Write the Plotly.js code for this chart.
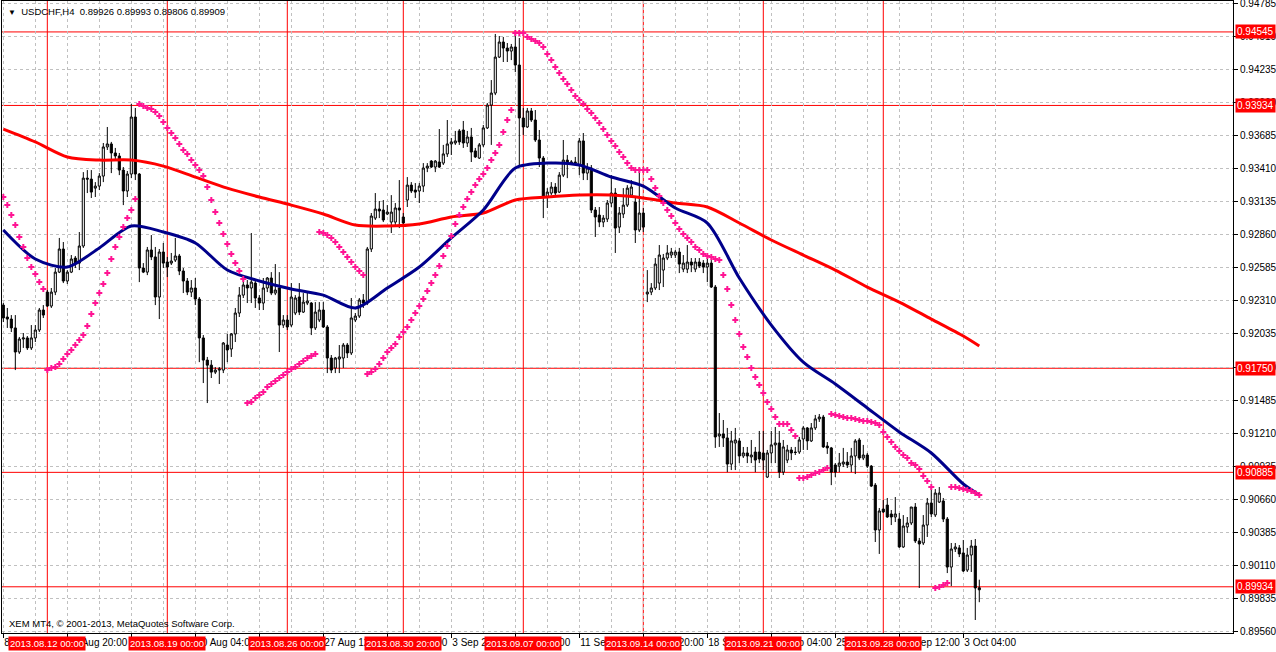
<!DOCTYPE html>
<html>
<head>
<meta charset="utf-8">
<script src="https://cdn.plot.ly/plotly-3.0.1.min.js"></script>
<style>
  html, body { margin: 0; padding: 0; background: #fff; }
  #chart { width: 1276px; height: 652px; }
</style>
</head>
<body>
<div id="chart"></div>
<script>
// USDCHF H4 bars, 8 Aug 2013 04:00 .. 3 Oct 2013 20:00 (245 bars)
const barOpen = [
  .92275,.92176,.92159,.92085,.91885,.91993,.92002,.91919,.92002,.92068,
  .92234,.92383,.92267,.92383,.92549,.92741,.92475,.92549,.92666,.92624,
  .92766,.93330,.93322,.93247,.93264,.93347,.93589,.93614,.93539,.93514,
  .93397,.93223,.93364,.93838,.93364,.92583,.92549,.92733,.92675,.92342,
  .92716,.92633,.92624,.92649,.92683,.92558,.92475,.92383,.92417,.92325,
  .92002,.91818,.91776,.91718,.91735,.91735,.91943,.91910,.92035,.92209,
  .92358,.92442,.92417,.92458,.92334,.92292,.92417,.92500,.92375,.92417,
  .92109,.92151,.92109,.92209,.92342,.92217,.92292,.92292,.92085,.92151,
  .92234,.92093,.91835,.91752,.91827,.91835,.91943,.91877,.92151,.92184,
  .92317,.92292,.92741,.92998,.93073,.93065,.93032,.92965,.92965,.93082,
  .93007,.93148,.93272,.93231,.93223,.93264,.93414,.93472,.93422,.93464,
  .93455,.93531,.93614,.93622,.93722,.93730,.93622,.93672,.93556,.93497,
  .93606,.93747,.93937,.94037,.94336,.94461,.94411,.94386,.94420,.94270,
  .93830,.93755,.93888,.93813,.93647,.93497,.93173,.93206,.93256,.93214,
  .93355,.93480,.93455,.93464,.93439,.93639,.93372,.93414,.93065,.93023,
  .92965,.92990,.93123,.93206,.92923,.93032,.93106,.93189,.93131,.92899,
  .93040,.92367,.92383,.92417,.92458,.92566,.92666,.92691,.92691,.92716,
  .92574,.92574,.92633,.92574,.92633,.92624,.92591,.92624,.92425,.91187,
  .91204,.91171,.90954,.91129,.91146,.91021,.91046,.91013,.91054,.91054,
  .91046,.90846,.91046,.91113,.91129,.90887,.90987,.91071,.91054,.91054,
  .91162,.91254,.91146,.91254,.91329,.91345,.91104,.91088,.90946,.90937,
  .90954,.90971,.90946,.91021,.91154,.91004,.91029,.90937,.90779,.90406,
  .90580,.90613,.90539,.90514,.90497,.90265,.90431,.90464,.90597,.90315,
  .90298,.90447,.90630,.90531,.90638,.90647,.90497,.90098,.90248,.90257,
  .90215,.90073,.90198,.90273,.89926
];
const barHigh = [
  .92292,.92251,.92192,.92192,.92010,.92043,.92018,.92109,.92109,.92251,
  .92275,.92400,.92417,.92583,.92833,.92799,.92566,.92691,.92683,.92882,
  .93380,.93397,.93397,.93297,.93372,.93622,.93755,.93631,.93581,.93539,
  .93422,.93389,.93946,.93913,.93372,.92624,.92758,.92857,.92758,.92741,
  .92791,.92675,.92708,.92833,.92700,.92583,.92500,.92483,.92500,.92342,
  .92026,.91844,.91818,.91760,.91760,.91968,.92035,.92043,.92251,.92425,
  .92483,.92483,.92874,.92483,.92358,.92500,.92508,.92549,.92616,.92549,
  .92192,.92192,.92458,.92358,.92458,.92375,.92383,.92300,.92300,.92300,
  .92300,.92109,.91860,.91844,.91943,.91960,.91960,.92334,.92209,.92334,
  .92367,.92758,.93040,.93206,.93140,.93148,.93106,.93189,.93123,.93314,
  .93040,.93339,.93297,.93289,.93289,.93455,.93455,.93480,.93480,.93738,
  .93606,.93813,.93664,.93722,.93738,.93805,.93722,.93747,.93581,.93622,
  .93772,.93954,.94145,.94528,.94511,.94503,.94453,.94445,.94544,.94495,
  .93913,.93913,.93913,.93896,.93730,.93514,.93247,.93297,.93289,.93380,
  .93647,.93522,.93480,.93506,.93664,.93705,.93455,.93439,.93090,.93090,
  .93023,.93148,.93355,.93247,.93090,.93247,.93272,.93314,.93165,.93380,
  .93082,.92566,.92458,.92666,.92774,.92700,.92774,.92750,.92733,.92750,
  .92691,.92774,.92666,.92666,.92666,.92649,.92666,.92649,.92442,.91378,
  .91320,.91254,.91229,.91254,.91171,.91096,.91096,.91154,.91096,.91229,
  .91229,.91071,.91229,.91262,.91229,.91154,.91113,.91096,.91096,.91179,
  .91271,.91262,.91295,.91362,.91370,.91362,.91137,.91096,.90962,.91046,
  .91088,.91054,.91088,.91162,.91171,.91113,.91046,.90946,.90796,.90589,
  .90655,.90672,.90572,.90680,.90547,.90530,.90514,.90597,.90630,.90340,
  .90530,.90672,.90763,.90746,.90763,.90672,.90514,.90298,.90298,.90281,
  .90323,.90257,.90323,.90331,.89993
];
const barLow = [
  .92134,.92085,.92051,.91735,.91869,.91919,.91902,.91902,.91968,.92051,
  .92168,.92259,.92251,.92358,.92541,.92458,.92450,.92541,.92583,.92566,
  .92750,.93206,.93165,.93173,.93231,.93297,.93564,.93372,.93480,.93355,
  .93106,.93173,.93330,.93314,.92466,.92541,.92524,.92649,.92275,.92159,
  .92583,.92508,.92608,.92633,.92524,.92375,.92358,.92342,.92275,.91801,
  .91627,.91461,.91669,.91702,.91619,.91710,.91801,.91844,.91968,.92176,
  .92334,.92292,.92292,.92251,.92234,.92234,.92383,.92358,.92358,.91885,
  .92085,.92068,.92093,.92192,.92192,.92209,.92275,.92026,.92068,.92134,
  .92085,.91710,.91710,.91710,.91710,.91752,.91835,.91860,.92134,.92168,
  .92251,.92275,.92716,.92982,.92998,.92965,.93023,.92874,.92940,.92915,
  .92940,.93090,.93206,.93165,.93123,.93214,.93380,.93414,.93380,.93414,
  .93439,.93506,.93522,.93606,.93606,.93581,.93589,.93464,.93497,.93489,
  .93589,.93738,.93606,.94020,.94328,.94295,.94295,.94311,.94211,.93439,
  .93689,.93747,.93797,.93631,.93422,.92998,.93082,.93189,.93173,.93206,
  .93339,.93330,.93439,.93439,.93355,.93314,.93314,.93040,.92841,.92923,
  .92923,.92965,.93090,.92708,.92874,.92998,.93090,.93173,.92791,.92882,
  .92882,.92300,.92358,.92400,.92400,.92425,.92649,.92666,.92666,.92541,
  .92549,.92541,.92549,.92549,.92583,.92541,.92466,.92417,.91088,.91096,
  .91096,.90887,.90904,.90904,.90962,.91004,.90962,.90962,.90887,.90962,
  .90904,.90838,.90962,.90962,.90838,.90863,.90962,.90987,.91029,.91038,
  .91071,.91071,.91137,.91237,.91304,.91088,.91038,.90779,.90846,.90887,
  .90929,.90921,.90887,.90871,.90987,.90987,.90921,.90763,.90306,.90207,
  .90547,.90506,.90447,.90472,.90257,.90257,.90381,.90447,.90298,.89924,
  .90281,.90348,.90514,.90514,.90630,.90472,.90048,.89940,.90223,.90181,
  .90057,.90057,.90057,.89658,.89806
];
const barClose = [
  .92168,.92159,.92085,.91885,.91993,.92002,.91919,.92002,.92068,.92234,
  .92192,.92267,.92383,.92549,.92741,.92475,.92549,.92658,.92624,.92766,
  .93330,.93322,.93214,.93264,.93347,.93589,.93614,.93539,.93514,.93397,
  .93223,.93364,.93838,.93364,.92583,.92549,.92733,.92675,.92342,.92716,
  .92624,.92591,.92641,.92683,.92558,.92475,.92383,.92417,.92325,.92002,
  .91818,.91776,.91718,.91735,.91743,.91960,.91902,.92035,.92209,.92358,
  .92442,.92417,.92466,.92334,.92292,.92417,.92500,.92375,.92400,.92109,
  .92151,.92093,.92342,.92334,.92217,.92300,.92309,.92085,.92217,.92234,
  .92093,.91835,.91735,.91835,.91844,.91943,.91877,.92168,.92184,.92317,
  .92292,.92741,.93015,.93073,.93057,.92982,.93048,.93048,.93082,.93065,
  .92957,.93272,.93223,.93214,.93264,.93414,.93430,.93422,.93472,.93422,
  .93531,.93614,.93631,.93639,.93631,.93622,.93672,.93547,.93506,.93606,
  .93747,.93937,.94037,.94336,.94461,.94411,.94386,.94420,.94270,.93830,
  .93755,.93888,.93813,.93647,.93497,.93173,.93214,.93256,.93206,.93355,
  .93480,.93455,.93464,.93460,.93639,.93372,.93414,.93065,.93007,.92965,
  .92998,.93123,.93206,.92915,.93040,.93106,.93247,.93256,.92899,.93040,
  .92923,.92383,.92417,.92616,.92691,.92666,.92708,.92716,.92716,.92616,
  .92624,.92633,.92608,.92633,.92599,.92591,.92624,.92425,.91179,.91204,
  .91171,.90954,.91146,.91154,.91021,.91046,.91021,.91029,.90987,.90996,
  .90987,.91046,.91113,.91129,.90887,.91096,.91071,.91046,.91050,.91154,
  .91254,.91146,.91254,.91329,.91345,.91096,.91088,.90887,.90887,.90962,
  .90971,.90946,.91021,.91146,.91004,.91029,.90937,.90771,.90406,.90564,
  .90556,.90514,.90514,.90539,.90265,.90439,.90464,.90597,.90315,.90290,
  .90447,.90630,.90539,.90713,.90713,.90497,.90098,.90248,.90265,.90207,
  .90065,.90198,.90273,.89924,.89909
];

// Parabolic SAR, one dot per bar
const sarValues = [
  .93173,.93106,.93023,.92940,.92841,.92758,.92666,.92591,.92533,.92466,.92409,
  .91735,.91752,.91760,.91785,.91827,.91869,.91902,.91943,.91985,.92026,.92101,
  .92201,.92292,.92375,.92450,.92541,.92658,.92758,.92841,.92924,.92998,.93065,.93156,
  .93946,.93929,.93913,.93904,.93879,.93846,.93796,.93747,.93705,.93664,.93614,
  .93564,.93531,.93480,.93439,.93397,.93347,.93256,.93148,.93048,.92957,.92866,
  .92783,.92700,.92624,.92558,.92491,
  .91461,.91469,.91502,.91527,.91552,.91594,.91619,.91644,.91669,.91693,.91718,
  .91743,.91760,.91785,.91810,.91835,.91852,.91869,
  .92882,.92874,.92857,.92833,.92799,.92758,.92716,.92675,.92633,.92591,.92558,.92524,
  .91702,.91718,.91743,.91785,.91835,.91885,.91919,.91952,.92010,.92051,
  .92093,.92151,.92209,.92267,.92325,.92392,.92458,.92524,.92599,.92683,
  .92766,.92849,.92949,.93023,.93090,.93156,.93214,.93272,.93322,.93364,
  .93414,.93480,.93539,.93606,.93714,.93813,.93896,
  .94536,.94536,.94536,.94503,.94486,.94469,.94453,.94420,.94362,.94311,
  .94253,.94203,.94153,.94112,.94062,.94012,.93979,.93946,.93904,.93871,
  .93830,.93789,.93738,.93689,.93639,.93597,.93547,.93506,.93455,.93414,
  .93397,.93397,.93397,.93397,.93322,.93247,.93181,.93123,.93065,.93015,
  .92957,.92907,.92866,.92833,.92799,.92758,.92733,.92700,.92683,.92675,
  .92658,.92649,.92524,.92409,.92275,.92151,.92035,.91927,.91844,.91752,
  .91677,.91611,.91544,.91469,.91412,.91345,.91287,.91287,.91287,.91237,.91187,
  .90838,.90838,.90846,.90863,.90879,.90887,.90904,.90921,
  .91370,.91362,.91354,.91345,.91337,.91337,.91329,.91320,.91312,.91312,
  .91304,.91295,.91279,.91221,.91179,.91137,.91096,.91063,.91029,.91004,
  .90962,.90946,.90913,.90854,.90813,.90763,
  .89924,.89932,.89949,.89965,
  .90763,.90763,.90754,.90746,.90738,.90729,.90713,.90696
];

// moving averages, read every 8 bars
const maBars = [0,8,16,24,32,40,48,56,64,72,80,88,96,104,112,120,128,136,144,152,160,168,176,184,192,200,208,216,224,232,240,244];
const slowMA = [.93738,.93631,.93506,.93480,.93480,.93430,.93339,.93247,.93173,.93106,.93032,.92940,.92932,.92949,.93007,.93040,
                .93148,.93173,.93189,.93189,.93165,.93123,.93090,.92957,.92816,.92691,.92566,.92425,.92300,.92159,.92018,.91935];
const fastMA = [.92899,.92658,.92591,.92750,.92932,.92882,.92791,.92566,.92475,.92409,.92358,.92251,.92417,.92591,.92833,.93065,
                .93414,.93455,.93439,.93339,.93264,.93082,.92957,.92500,.92109,.91801,.91619,.91420,.91221,.91046,.90788,.90697];

// horizontal price levels and the dated vertical lines
const levels = [0.94545, 0.93934, 0.91750, 0.90885, 0.89934];
const sepBars = [11, 41, 71, 100, 130, 160, 190, 220];
const sepLabels = ['2013.08.12 00:00','2013.08.19 00:00','2013.08.26 00:00','2013.08.30 20:00',
                   '2013.09.07 00:00','2013.09.14 00:00','2013.09.21 00:00','2013.09.28 00:00'];

// axis ticks
const tickBars = [0,16,32,48,64,80,96,112,128,144,160,176,192,208,224,240];
const tickLabels = ['8 Aug 2013','12 Aug 20:00','15 Aug 12:00','20 Aug 04:00','22 Aug 20:00','27 Aug 12:00',
                    '30 Aug 04:00','3 Sep 20:00','6 Sep 12:00','11 Sep 04:00','13 Sep 20:00','18 Sep 12:00',
                    '23 Sep 04:00','25 Sep 20:00','30 Sep 12:00','3 Oct 04:00'];
const priceTicks = [0.89560,0.89835,0.90110,0.90385,0.90660,0.90935,0.91210,0.91485,0.91760,0.92035,
                    0.92310,0.92585,0.92860,0.93135,0.93410,0.93685,0.93960,0.94235,0.94510,0.94785];

const FONT = 'Liberation Sans, Arial, sans-serif';
const GRID = '#c0c0c0';
const bars = barOpen.map((_, i) => i);
const last = bars.length - 1;

const traces = [
    {
        type: 'candlestick', x: bars,
        open: barOpen, high: barHigh, low: barLow, close: barClose,
        increasing: { line: { color: '#000', width: 1 }, fillcolor: '#fff' },
        decreasing: { line: { color: '#000', width: 1 }, fillcolor: '#000' },
        whiskerwidth: 0, hoverinfo: 'skip'
    },
    { // slow MA
        x: maBars, y: slowMA, type: 'scatter', mode: 'lines',
        line: { color: '#ff0000', width: 3, shape: 'spline', smoothing: 0.8 }, hoverinfo: 'skip'
    },
    { // fast MA
        x: maBars, y: fastMA, type: 'scatter', mode: 'lines',
        line: { color: '#00008b', width: 3, shape: 'spline', smoothing: 0.8 }, hoverinfo: 'skip'
    },
    { // parabolic SAR
        x: bars, y: sarValues, type: 'scatter', mode: 'markers',
        marker: { symbol: 'cross', size: 5, color: '#ff1493', line: { width: 0 } },
        hoverinfo: 'skip'
    }
];

const shapes = [];
levels.forEach(v => shapes.push({
    type: 'line', xref: 'paper', x0: 0, x1: 1, yref: 'y', y0: v, y1: v,
    line: { color: '#ff0000', width: 1 }, layer: 'below'
}));
sepBars.forEach(b => shapes.push({
    type: 'line', xref: 'x', x0: b, x1: b, yref: 'paper', y0: 0, y1: 1,
    line: { color: '#ff0000', width: 1 }, layer: 'below'
}));

const annotations = [];
levels.forEach(v => annotations.push({
    xref: 'paper', x: 1, xanchor: 'left', xshift: 2,
    yref: 'y', y: v, yanchor: 'middle',
    text: v.toFixed(5), showarrow: false,
    bgcolor: '#ff0000', borderpad: 1,
    font: { family: FONT, size: 10, color: '#fff' }
}));
sepBars.forEach((b, i) => annotations.push({
    xref: 'x', x: b, xanchor: 'center',
    yref: 'paper', y: 0, yanchor: 'top', yshift: -3,
    text: sepLabels[i], showarrow: false,
    bgcolor: '#ff0000', borderpad: 1,
    font: { family: FONT, size: 9.5, color: '#fff' }
}));
annotations.push({
    xref: 'paper', x: 0, xanchor: 'left', xshift: 4,
    yref: 'paper', y: 1, yanchor: 'top', yshift: -3,
    showarrow: false,
    text: '<span style="font-size:8px">▼</span>\u00a0\u00a0USDCHF,H4\u00a0\u00a0' +
          [barOpen[last], barHigh[last], barLow[last], barClose[last]].map(v => v.toFixed(5)).join(' '),
    font: { family: FONT, size: 9.5, color: '#000' }
});
annotations.push({
    xref: 'paper', x: 0, xanchor: 'left', xshift: 5,
    yref: 'paper', y: 0, yanchor: 'bottom', yshift: 2,
    showarrow: false,
    text: 'XEM MT4, © 2001-2013, MetaQuotes Software Corp.',
    font: { family: FONT, size: 9.5, color: '#000' }
});

const layout = {
    width: 1276, height: 652,
    margin: { l: 2, r: 43, t: 1, b: 19 },
    paper_bgcolor: '#fff', plot_bgcolor: '#fff',
    font: { family: FONT, size: 10, color: '#000' },
    showlegend: false,
    xaxis: {
        range: [-0.33, 307.43],
        tickmode: 'array', tickvals: tickBars, ticktext: tickLabels,
        tickangle: 0,
        ticks: 'outside', ticklen: 4, tickcolor: '#000',
        ticklabelposition: 'outside right',
        ticklabeloverflow: 'allow',
        showgrid: true, gridcolor: GRID, griddash: '3px,3px', gridwidth: 1,
        minor: { tickvals: tickBars.map(b => b + 8), showgrid: true, gridcolor: GRID, griddash: '3px,3px', ticks: '' },
        showline: true, linecolor: '#000', linewidth: 1, mirror: true,
        zeroline: false, fixedrange: true,
        rangeslider: { visible: false },
        tickfont: { family: FONT, size: 10, color: '#000' }
    },
    yaxis: {
        side: 'right',
        range: [0.89550, 0.94802],
        tickmode: 'array', tickvals: priceTicks, ticktext: priceTicks.map(v => v.toFixed(5)),
        ticks: 'outside', ticklen: 4, tickcolor: '#000',
        ticklabeloverflow: 'allow',
        showgrid: true, gridcolor: GRID, griddash: '3px,3px', gridwidth: 1,
        showline: true, linecolor: '#000', linewidth: 1, mirror: true,
        zeroline: false, fixedrange: true,
        tickfont: { family: FONT, size: 10, color: '#000' }
    },
    boxgap: 0.25,
    shapes: shapes,
    annotations: annotations
};

Plotly.newPlot('chart', traces, layout, { displayModeBar: false, staticPlot: true });
</script>
</body>
</html>
